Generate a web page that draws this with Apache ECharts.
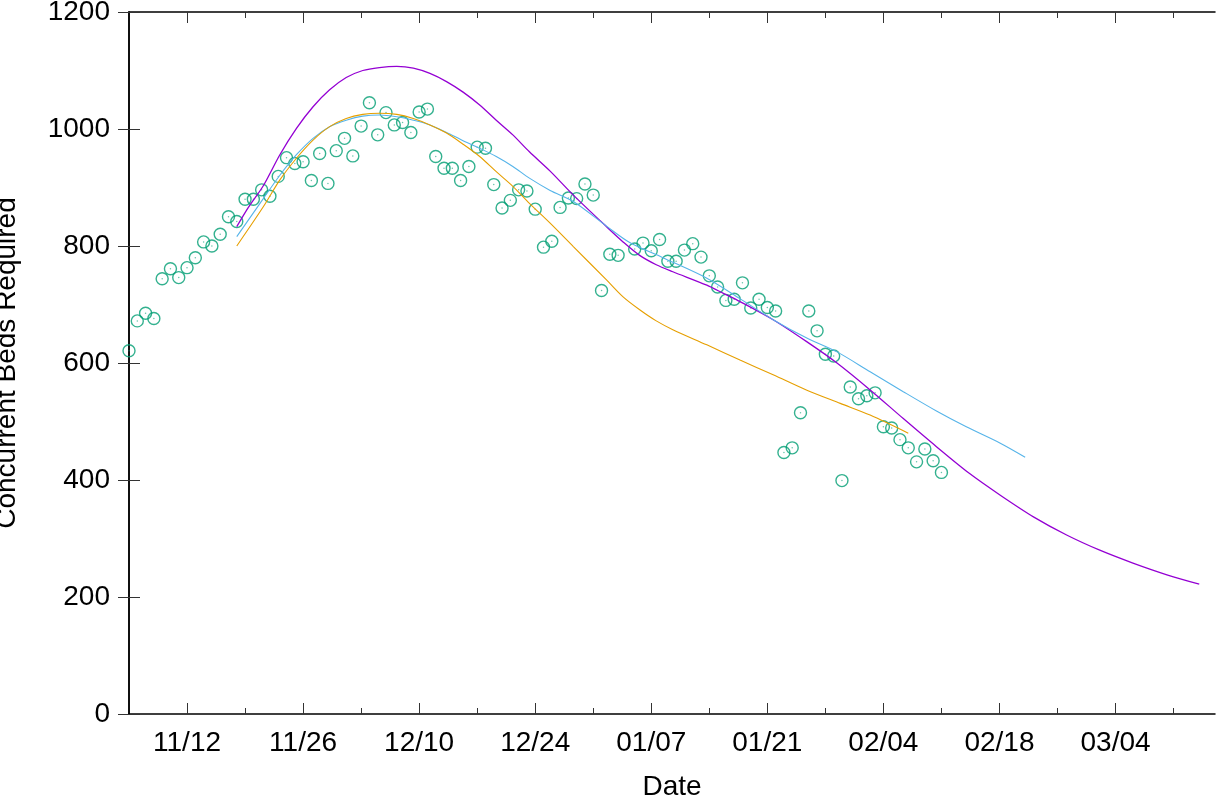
<!DOCTYPE html>
<html>
<head>
<meta charset="utf-8">
<script src="https://cdn.jsdelivr.net/npm/echarts@6/dist/echarts.min.js"></script>
<style>
html,body{margin:0;padding:0;background:#fff;}
#chart{width:1216px;height:799px;}
</style>
</head>
<body>
<div id="chart"></div>
<script>
// Day offsets are counted from 2020-11-05
const startDate = Date.UTC(2020, 10, 5);
const xMinDay = 0;
const xMaxDay = 131;
const majorTickDays = [7, 21, 35, 49, 63, 77, 91, 105, 119];
const minorTickDays = [14, 28, 42, 56, 70, 84, 98, 112, 126];
const yTicks = [0, 200, 400, 600, 800, 1000, 1200];

// Observed daily values (index = day offset), null = no observation
const observed = [
  621, 672, 685, 676, 744, 761, 746, 763, 780, 807,
  800, 820, 850, 842, 880, 880, 896, 885, 919, 951,
  941, 944, 912, 958, 907, 963, 984, 954, 1005, 1045,
  990, 1028, 1007, 1011, 994, 1029, 1034, 953, 933, 933,
  912, 936, 969, 967, 905, 865, 878, 896, 894, 863,
  798, 808, 866, 882, 881, 906, 887, 724, 786, 784,
  null, 795, 805, 792, 811, 774, 774, 793, 804, 781,
  749, 730, 707, 709, 737, 694, 709, 695, 689, 447,
  455, 515, 689, 655, 615, 612, 399, 559, 539, 544,
  549, 491, 489, 469, 455, 431, 453, 433, 413
];

// Fitted curves
const purpleDays = [13.0,14.4,16.2,18.2,20.2,22.2,24.2,26.2,28.2,30.2,32.3,34.3,36.3,38.3,40.3,42.3,44.3,46.3,48.3,50.8,53.6,57.6,59.6,61.6,63.6,65.6,69.7,71.7,73.7,77.7,81.7,85.4,89.4,93.4,97.4,101.4,105.1,109.1,113.1,117.1,121.1,125.2,129.1];
const purpleVals = [833,866,903,956,1001,1038,1067,1088,1100,1105,1107,1104,1095,1081,1063,1041,1015,990,961,928,887,833,807,784,768,756,733,719,705,674,637,600,554,505,457,411,374,337,306,280,258,238,222];

const blueDays = [13.0,16.2,18.2,20.2,22.2,24.2,26.2,28.2,30.2,32.3,34.3,36.3,38.3,40.3,42.3,44.3,46.3,48.3,50.8,53.6,57.6,60.4,64.4,69.7,73.7,77.7,81.7,85.4,89.4,93.4,97.4,101.0,105.1,108.1];
const blueVals = [816,881,921,956,984,1004,1015,1022,1024,1021,1015,1007,994,980,967,953,936,916,895,876,834,806,780,745,710,674,643,619,585,551,518,491,463,439];

const orangeDays = [13.0,16.2,18.2,20.2,22.2,24.2,26.2,28.2,30.2,32.3,34.3,36.3,38.3,40.3,42.3,44.3,46.3,48.3,50.8,53.6,57.6,59.6,61.6,63.6,65.6,69.7,73.7,77.7,81.7,85.8,89.4,94.0];
const orangeVals = [800,867,913,950,981,1004,1018,1025,1027,1025,1018,1007,993,974,953,927,902,873,839,799,742,713,691,672,657,631,605,580,554,531,511,480];

function pad(n){ return (n < 10 ? '0' : '') + n; }
function dayLabel(d){
  const t = new Date(startDate + d * 86400000);
  return pad(t.getUTCMonth() + 1) + '/' + pad(t.getUTCDate());
}
function pairs(xs, ys){ return xs.map((x, i) => [x, ys[i]]); }

const pointData = [];
observed.forEach((v, i) => { if (v !== null) pointData.push([i, v]); });

const FONT = 'Liberation Sans';
const tickColor = '#333';

const chart = echarts.init(document.getElementById('chart'), null, {renderer: 'canvas'});

function xAx(pos, custom, len, opts) {
  return Object.assign({
    type: 'value', min: xMinDay, max: xMaxDay, position: pos,
    axisLine: {show: false},
    axisTick: {show: true, inside: true, length: len, customValues: custom, lineStyle: {color: tickColor, width: 1}},
    axisLabel: {show: false},
    splitLine: {show: false}
  }, opts || {});
}

const option = {
  animation: false,
  backgroundColor: '#ffffff',
  grid: {left: 129, top: 12, width: 1086, height: 702, containLabel: false, outerBoundsMode: 'none'},
  xAxis: [
    xAx('bottom', majorTickDays, 11, {
      axisLine: {show: true, lineStyle: {color: '#000', width: 1.5}},
      axisLabel: {show: true, customValues: majorTickDays, formatter: v => dayLabel(v),
        fontFamily: FONT, fontSize: 28, color: '#000', margin: 15},
      name: 'Date', nameLocation: 'middle', nameGap: 59,
      nameTextStyle: {fontFamily: FONT, fontSize: 28, color: '#000'}
    }),
    xAx('bottom', minorTickDays, 6),
    xAx('top', majorTickDays, 11, {axisLine: {show: true, lineStyle: {color: '#000', width: 1.5}}}),
    xAx('top', minorTickDays, 6)
  ],
  yAxis: [
    {
      type: 'value', min: yTicks[0], max: yTicks[yTicks.length - 1], interval: 200, position: 'left',
      axisLine: {show: true, lineStyle: {color: '#000', width: 1.5}},
      axisTick: {show: true, inside: true, length: 11, lineStyle: {color: tickColor, width: 1}},
      axisLabel: {fontFamily: FONT, fontSize: 28, color: '#000', margin: 19, formatter: v => String(v)},
      splitLine: {show: false},
      name: 'Concurrent Beds Required', nameLocation: 'middle', nameGap: 108, nameRotate: 90,
      nameTextStyle: {fontFamily: FONT, fontSize: 28, color: '#000'}
    },
    {
      type: 'value', min: yTicks[0], max: yTicks[yTicks.length - 1], interval: 200, position: 'right',
      axisLine: {show: true, lineStyle: {color: '#000', width: 1.5}},
      axisTick: {show: true, inside: true, length: 11, lineStyle: {color: tickColor, width: 1}},
      axisLabel: {show: false},
      splitLine: {show: false}
    }
  ],
  series: [
    {
      type: 'scatter', xAxisIndex: 0, yAxisIndex: 0, data: pointData,
      symbol: 'circle', symbolSize: 12, clip: false,
      itemStyle: {color: 'rgba(0,0,0,0)', borderColor: '#009e73', borderWidth: 1.4},
      z: 3
    },
    {
      type: 'scatter', xAxisIndex: 0, yAxisIndex: 0, data: pointData,
      symbol: 'circle', symbolSize: 1.5, clip: false, silent: true,
      itemStyle: {color: '#009e73', opacity: 0.6},
      z: 3
    },
    {
      type: 'line', xAxisIndex: 0, yAxisIndex: 0, data: pairs(purpleDays, purpleVals),
      showSymbol: false, smooth: 0.3, lineStyle: {color: '#9400d3', width: 1.3}, z: 4
    },
    {
      type: 'line', xAxisIndex: 0, yAxisIndex: 0, data: pairs(blueDays, blueVals),
      showSymbol: false, smooth: 0.3, lineStyle: {color: '#56b4e9', width: 1.1}, z: 4
    },
    {
      type: 'line', xAxisIndex: 0, yAxisIndex: 0, data: pairs(orangeDays, orangeVals),
      showSymbol: false, smooth: 0.3, lineStyle: {color: '#e69f00', width: 1.1}, z: 4
    }
  ]
};
chart.setOption(option);
</script>
</body>
</html>
